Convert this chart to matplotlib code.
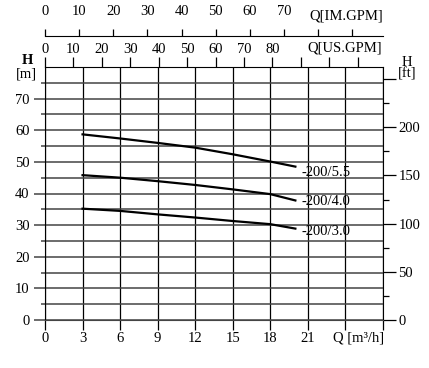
import matplotlib.pyplot as plt

plt.rcParams['font.family'] = ['Liberation Serif', 'DejaVu Serif']
plt.rcParams['font.size'] = 10.5

# caudal en m3/h y altura en m
flow = [3, 6, 9, 12, 15, 18, 20]
h_55 = [58.7, 57.4, 56.0, 54.5, 52.4, 50.1, 48.5]
h_40 = [45.8, 45.0, 43.9, 42.7, 41.3, 39.8, 37.8]
h_30 = [35.2, 34.5, 33.4, 32.4, 31.3, 30.3, 28.9]
curve_names = ['-200/5.5', '-200/4.0', '-200/3.0']
label_heights = [46.5, 37.4, 28.0]

x_ticks = list(range(0, 28, 3))
x_labels = [str(t) for t in x_ticks[:8]] + ['', '']
us_ticks = list(range(0, 120, 10))
us_labels = [str(t) for t in us_ticks[:9]] + ['', '', '']
im_ticks = list(range(0, 100, 10))
im_labels = [str(t) for t in im_ticks[:8]] + ['', '']
ft_ticks = [0, 50, 100, 150, 200, 250]
ft_labels = ['0', '50', '100', '150', '200', '']

US_GPM = 0.2271247
IM_GPM = 0.2727655
M_TO_FT = 3.28084

W, H = 429, 368
fig = plt.figure(figsize=(W / 100, H / 100), dpi=100)
ax = fig.add_axes([45 / W, 48 / H, 338 / W, 253 / H])

ax.set_xlim(0, 27)
ax.set_ylim(0, 80)

# rejilla
ax.set_xticks(x_ticks)
ax.set_xticklabels(x_labels)
ax.set_yticks(range(0, 80, 10))
ax.set_yticks(range(5, 80, 10), minor=True)
ax.grid(axis='x', color='black', linewidth=0.9)
ax.grid(axis='y', which='both', color='#444444', linewidth=1.1)
ax.tick_params(axis='x', length=7, width=0.9, pad=2)
ax.tick_params(axis='y', which='major', length=8, width=1.1, pad=3, color='#444444')
ax.tick_params(axis='y', which='minor', length=3, width=1.1, color='#444444')
for s in ['top', 'right']:
    ax.spines[s].set_visible(False)
ax.spines['bottom'].set_color('#444444')

# curvas
for hs, name, ly in zip([h_55, h_40, h_30], curve_names, label_heights):
    ax.plot(flow, hs, color='black', linewidth=1.6)
    ax.text(20.5, ly, name, ha='left', va='center')

# eje superior US GPM
sec_us = ax.secondary_xaxis('top', functions=(lambda q: q / US_GPM, lambda g: g * US_GPM))
sec_us.set_xticks(us_ticks)
sec_us.set_xticklabels(us_labels)
sec_us.tick_params(length=7, width=0.9, pad=1)

# eje superior IM GPM
sec_im = ax.secondary_xaxis(1.1225, functions=(lambda q: q / IM_GPM, lambda g: g * IM_GPM))
sec_im.set_xticks(im_ticks)
sec_im.set_xticklabels(im_labels)
sec_im.tick_params(length=5, width=0.9, pad=8)

# eje derecho en pies
sec_ft = ax.secondary_yaxis('right', functions=(lambda m: m * M_TO_FT, lambda f: f / M_TO_FT))
sec_ft.set_yticks(ft_ticks)
sec_ft.set_yticklabels(ft_labels)
sec_ft.set_yticks(range(25, 250, 50), minor=True)
sec_ft.tick_params(which='major', length=9, width=0.9, pad=2)
sec_ft.tick_params(which='minor', length=4, width=0.9)

# etiquetas de ejes
fig.text(359 / W, 1 - 338 / H, 'Q [m³/h]', ha='center', va='center')
fig.text(345 / W, 1 - 48 / H, 'Q[US.GPM]', ha='center', va='center')
fig.text(346 / W, 1 - 16 / H, 'Q[IM.GPM]', ha='center', va='center')
fig.text(27 / W, 1 - 60 / H, 'H', ha='center', va='center', fontweight='bold')
fig.text(26 / W, 1 - 74 / H, '[m]', ha='center', va='center')
fig.text(407 / W, 1 - 62 / H, 'H', ha='center', va='center')
fig.text(407 / W, 1 - 74 / H, '[ft]', ha='center', va='center')

fig.savefig('out.png', dpi=100)
